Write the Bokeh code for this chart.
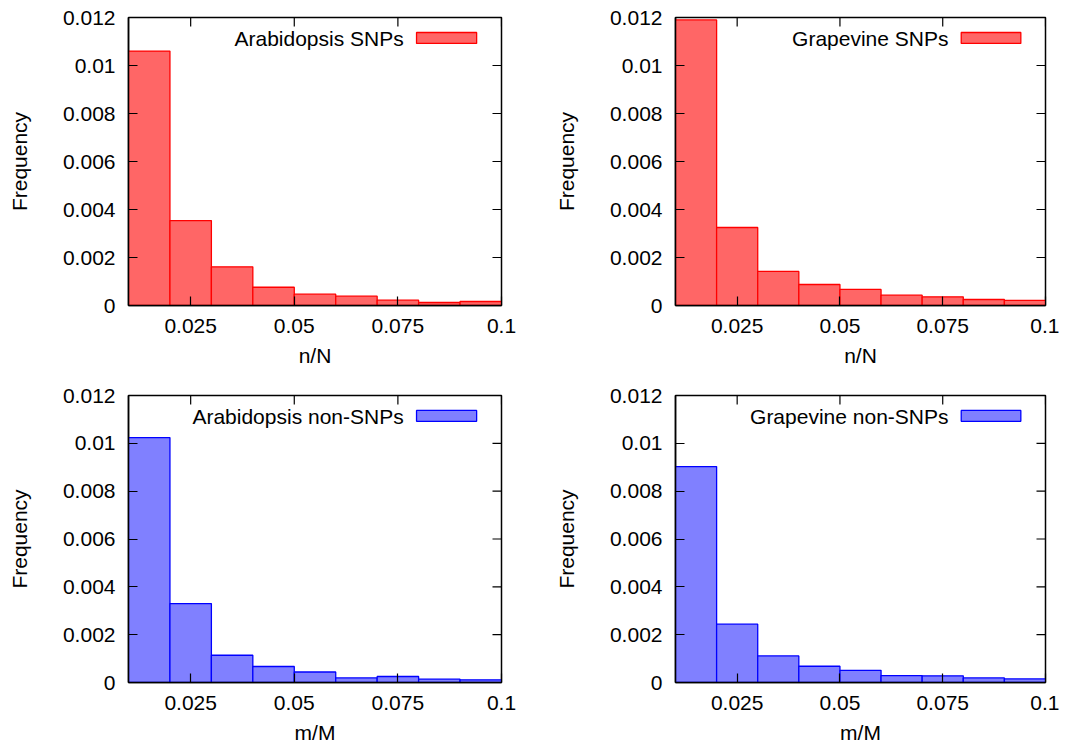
import math
from bokeh.plotting import figure
from bokeh.layouts import column, row
from bokeh.models import Range1d, FixedTicker
from bokeh.core.properties import value
from bokeh.embed import file_html
from bokeh.resources import INLINE

# ---- data ----
bin_left = [0.01, 0.02, 0.03, 0.04, 0.05, 0.06, 0.07, 0.08, 0.09]
bin_right = [0.02, 0.03, 0.04, 0.05, 0.06, 0.07, 0.08, 0.09, 0.10]

arabidopsis_snps = [0.0106, 0.00354, 0.00161, 0.00076, 0.00047, 0.00039, 0.00022, 0.000125, 0.000167]
grapevine_snps = [0.0119, 0.00325, 0.00142, 0.000875, 0.00067, 0.00043, 0.00036, 0.00025, 0.00021]
arabidopsis_non_snps = [0.01024, 0.0033, 0.00114, 0.00067, 0.00044, 0.00019, 0.00025, 0.00014, 0.00011]
grapevine_non_snps = [0.00903, 0.00244, 0.00111, 0.00068, 0.00051, 0.00029, 0.00028, 0.00019, 0.00015]

x_ticks = [0.025, 0.05, 0.075, 0.1]
x_tick_labels = ["0.025", "0.05", "0.075", "0.1"]
y_ticks = [0, 0.002, 0.004, 0.006, 0.008, 0.01, 0.012]
y_tick_labels = ["0", "0.002", "0.004", "0.006", "0.008", "0.01", "0.012"]

X_MIN, X_MAX = 0.01, 0.1
Y_MIN, Y_MAX = 0.0, 0.012

FONT = "Liberation Sans"
FS = "21px"

RED_FILL = "#ff6666"
RED_LINE = "#ff0000"
BLUE_FILL = "#8080ff"
BLUE_LINE = "#0000ff"


def make_panel(vals, label, xlabel, fill, line, width, height, bl, br, bt, bb):
    p = figure(width=width, height=height,
               x_range=Range1d(X_MIN, X_MAX), y_range=Range1d(Y_MIN, Y_MAX),
               output_backend="svg", toolbar_location=None,
               min_border_left=bl, min_border_right=br,
               min_border_top=bt, min_border_bottom=bb,
               x_axis_label=xlabel, y_axis_label="Frequency")
    p.grid.visible = False
    p.outline_line_color = "black"
    p.outline_line_width = 1.5

    p.quad(left=bin_left, right=bin_right, bottom=0, top=vals,
           fill_color=fill, line_color=line, line_width=1.3)

    # mirrored inward ticks on top and right borders
    p.ray(x=x_ticks, y=[Y_MAX] * len(x_ticks), length=9, length_units="screen",
          angle=-math.pi / 2, line_color="black", line_width=1.2)
    p.ray(x=[X_MAX] * len(y_ticks), y=y_ticks, length=9, length_units="screen",
          angle=math.pi, line_color="black", line_width=1.2)

    # legend (gnuplot style: text then sample)
    p.text(x=[0.0764], y=[0.01112], text=[label], text_align="right",
           text_baseline="middle", text_font=value(FONT), text_font_size=FS,
           text_color="black")
    p.quad(left=[0.0795], right=[0.094], bottom=[0.01092], top=[0.011375],
           fill_color=fill, line_color=line, line_width=1.3)

    xa = p.xaxis[0]
    ya = p.yaxis[0]
    xa.ticker = FixedTicker(ticks=x_ticks)
    ya.ticker = FixedTicker(ticks=y_ticks)
    xa.major_label_overrides = {t: l for t, l in zip(x_ticks, x_tick_labels)}
    ya.major_label_overrides = {t: l for t, l in zip(y_ticks, y_tick_labels)}
    for ax in (xa, ya):
        ax.major_tick_in = 9
        ax.major_tick_out = 0
        ax.minor_tick_line_color = None
        ax.major_tick_line_color = "black"
        ax.major_tick_line_width = 1.2
        ax.axis_line_color = "black"
        ax.axis_line_width = 1.5
        ax.major_label_text_font = FONT
        ax.major_label_text_font_size = FS
        ax.major_label_text_color = "black"
        ax.axis_label_text_font = FONT
        ax.axis_label_text_font_size = FS
        ax.axis_label_text_font_style = "normal"
        ax.axis_label_text_color = "black"
    xa.major_label_standoff = 13
    xa.axis_label_standoff = 8
    ya.major_label_standoff = 13
    ya.axis_label_standoff = 29
    return p


p1 = make_panel(arabidopsis_snps, "Arabidopsis SNPs", "n/N", RED_FILL, RED_LINE,
                528, 383, 128, 27, 17, 78)
p2 = make_panel(grapevine_snps, "Grapevine SNPs", "n/N", RED_FILL, RED_LINE,
                531, 383, 147, 14, 17, 78)
p3 = make_panel(arabidopsis_non_snps, "Arabidopsis non-SNPs", "m/M", BLUE_FILL, BLUE_LINE,
                528, 363, 128, 27, 12, 62)
p4 = make_panel(grapevine_non_snps, "Grapevine non-SNPs", "m/M", BLUE_FILL, BLUE_LINE,
                531, 363, 147, 14, 12, 62)

layout = column(row(p1, p2), row(p3, p4))
open("out.html", "w").write(file_html(layout, INLINE))
